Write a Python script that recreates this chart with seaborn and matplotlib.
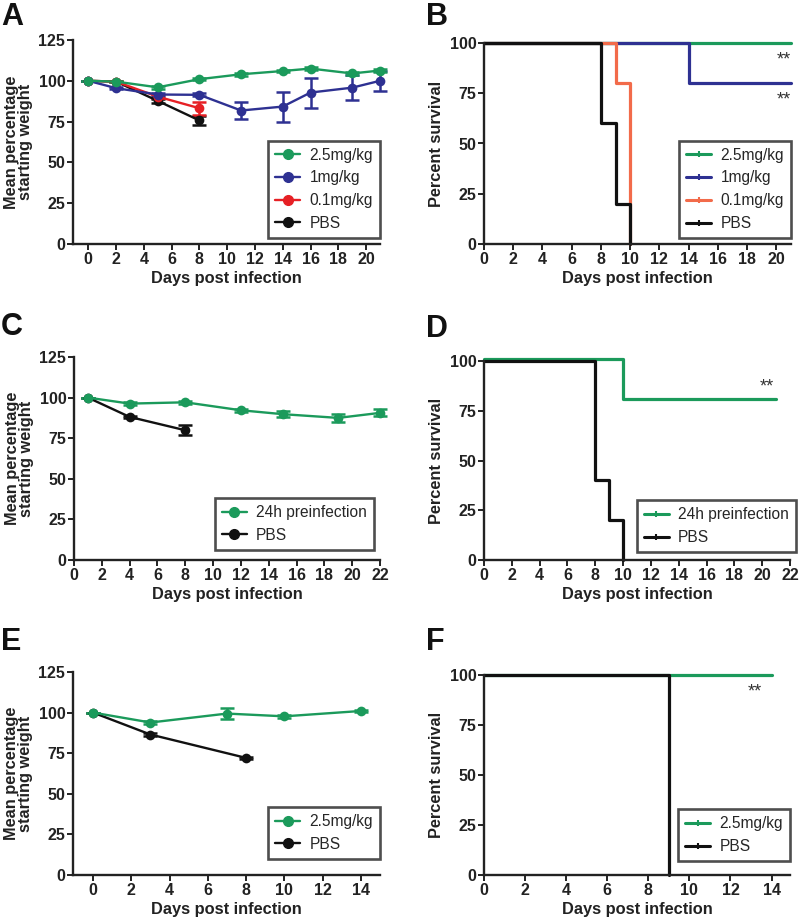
import numpy as np
import pandas as pd
import seaborn as sns
import matplotlib.pyplot as plt
from matplotlib.lines import Line2D

sns.set_style('white')
plt.rcParams['font.family'] = ['Liberation Sans', 'DejaVu Sans']

GREEN = '#1b9a5b'
BLUE = '#2e3192'
RED = '#e62025'
ORANGE = '#f26b4a'
BLACK = '#111111'

# ---- A: weight, dose response
a_groups = ['2.5mg/kg', '1mg/kg', '0.1mg/kg', 'PBS']
a_days = {
    '2.5mg/kg': [0, 2, 5, 8, 11, 14, 16, 19, 21],
    '1mg/kg': [0, 2, 5, 8, 11, 14, 16, 19, 21],
    '0.1mg/kg': [0, 2, 5, 8],
    'PBS': [0, 2, 5, 8],
}
a_mean = {
    '2.5mg/kg': [100, 99.5, 96, 101, 104, 106, 107.5, 104.5, 106.3],
    '1mg/kg': [100, 95.5, 91.6, 91.4, 81.8, 84.2, 92.8, 95.8, 100],
    '0.1mg/kg': [100, 99.5, 90.3, 83.2],
    'PBS': [100, 99.5, 87.7, 75.7],
}
a_sem = {
    '2.5mg/kg': [0, 0.5, 0.8, 0.8, 0.8, 0.8, 0.8, 1, 0.8],
    '1mg/kg': [0, 0.8, 1, 1, 5, 9.2, 9.2, 7.6, 6.3],
    '0.1mg/kg': [0, 0.5, 1, 4],
    'PBS': [0, 0.5, 1, 2.5],
}

# ---- B: survival, dose response
b_times = {
    '2.5mg/kg': [0, 21],
    '1mg/kg': [0, 14, 21],
    '0.1mg/kg': [0, 9, 10],
    'PBS': [0, 8, 9, 10],
}
b_surv = {
    '2.5mg/kg': [100, 100],
    '1mg/kg': [100, 80, 80],
    '0.1mg/kg': [100, 80, 0],
    'PBS': [100, 60, 20, 0],
}

# ---- C: weight, 24h preinfection
c_groups = ['24h preinfection', 'PBS']
c_days = {'24h preinfection': [1, 4, 8, 12, 15, 19, 22], 'PBS': [1, 4, 8]}
c_mean = {'24h preinfection': [100, 96.3, 97.1, 92.2, 89.8, 87.5, 90.6],
          'PBS': [100, 88.1, 79.9]}
c_sem = {'24h preinfection': [0, 0.8, 0.8, 0.8, 2, 2.3, 2.2],
         'PBS': [0, 0.8, 3]}

# ---- D: survival, 24h preinfection
d_times = {'24h preinfection': [0, 10, 21], 'PBS': [0, 8, 9, 10]}
d_surv = {'24h preinfection': [101, 81, 81], 'PBS': [100, 40, 20, 0]}

# ---- E: weight, 2.5mg/kg
e_groups = ['2.5mg/kg', 'PBS']
e_days = {'2.5mg/kg': [0, 3, 7, 10, 14], 'PBS': [0, 3, 8]}
e_mean = {'2.5mg/kg': [100, 93.9, 99.4, 97.7, 101], 'PBS': [100, 86.5, 72.1]}
e_sem = {'2.5mg/kg': [0, 0.8, 3.5, 0.8, 0.8], 'PBS': [0, 0.8, 0.8]}

# ---- F: survival, 2.5mg/kg
f_times = {'2.5mg/kg': [0, 14], 'PBS': [0, 9, 9]}
f_surv = {'2.5mg/kg': [100, 100], 'PBS': [100, 100, 0]}


def long_df(days, vals, extra=None):
    rows = []
    for g in days:
        for i, (d, v) in enumerate(zip(days[g], vals[g])):
            r = {'group': g, 'day': d, 'val': v}
            if extra is not None:
                r['err'] = extra[g][i]
            rows.append(r)
    return pd.DataFrame(rows)


def style_axes(ax, xlim, xticks, ylim, yticks, ylabel):
    ax.set_xlim(*xlim)
    ax.set_ylim(*ylim)
    ax.set_xticks(xticks)
    ax.set_yticks(yticks)
    for s in ['top', 'right']:
        ax.spines[s].set_visible(False)
    for s in ['left', 'bottom']:
        ax.spines[s].set_linewidth(1.7)
        ax.spines[s].set_color('#222222')
    ax.tick_params(axis='both', which='both', direction='out', length=4,
                   width=1.4, color='#222222', labelsize=11.5, pad=1.5,
                   bottom=True, left=True)
    for lab in ax.get_xticklabels() + ax.get_yticklabels():
        lab.set_fontweight('bold')
        lab.set_color('#222222')
    ax.set_xlabel('Days post infection', fontsize=11.8, fontweight='bold',
                  color='#222222', labelpad=3)
    ax.set_ylabel(ylabel, fontsize=11.8, fontweight='bold', color='#222222',
                  labelpad=4, linespacing=0.95)
    ax.grid(False)


def add_legend(ax, groups, colors, anchor, survival):
    handles = []
    for g in groups:
        if survival:
            h = Line2D([], [], color=colors[g], lw=2.2, marker='|',
                       markersize=5, markeredgewidth=1.5)
        else:
            h = Line2D([], [], color=colors[g], lw=1.7, marker='o',
                       markersize=7)
        handles.append(h)
    leg = ax.legend(handles, groups, loc='lower right', bbox_to_anchor=anchor,
                    frameon=True, fancybox=False, fontsize=11.2,
                    handlelength=1.6, handletextpad=0.6, borderpad=0.45,
                    labelspacing=0.5, borderaxespad=0)
    leg.get_frame().set_edgecolor('#222222')
    leg.get_frame().set_linewidth(1.9)


def weight_panel(ax, days, means, sems, groups, colors):
    df = long_df(days, means, sems)
    for g in groups[::-1]:
        sub = df[df.group == g]
        ax.errorbar(sub['day'], sub['val'], yerr=sub['err'], fmt='none',
                    ecolor=colors[g], elinewidth=1.8, capsize=5,
                    capthick=1.8, zorder=2, clip_on=False)
    sns.lineplot(data=df, x='day', y='val', hue='group',
                 hue_order=groups[::-1], palette=colors, marker='o',
                 markersize=7, markeredgewidth=0, linewidth=1.7,
                 ax=ax, legend=False, clip_on=False, zorder=3)


def survival_panel(ax, times, surv, groups, colors):
    df = long_df(times, surv)
    sns.lineplot(data=df, x='day', y='val', hue='group',
                 hue_order=groups, palette=colors, drawstyle='steps-post',
                 linewidth=2.3, ax=ax, legend=False, clip_on=False,
                 estimator=None, sort=False)


fig = plt.figure(figsize=(8, 9.21), dpi=100)
W, H = 800, 921


def make_ax(l, r, t, b):
    return fig.add_axes([l / W, 1 - b / H, (r - l) / W, (b - t) / H])


axA = make_ax(73, 380, 40, 244)
axB = make_ax(484, 791, 43, 244)
axC = make_ax(74, 380, 357, 560)
axD = make_ax(484, 790, 361, 560)
axE = make_ax(73, 380, 672, 875)
axF = make_ax(484, 790, 675, 875)

wlab = 'Mean percentage\nstarting weight'

# A
colA = {'2.5mg/kg': GREEN, '1mg/kg': BLUE, '0.1mg/kg': RED, 'PBS': BLACK}
weight_panel(axA, a_days, a_mean, a_sem, a_groups, colA)
style_axes(axA, (-1.1, 21), range(0, 21, 2), (0, 125), range(0, 126, 25), wlab)
add_legend(axA, a_groups, colA, (1.0, 0.03), False)

# B
colB = {'2.5mg/kg': GREEN, '1mg/kg': BLUE, '0.1mg/kg': ORANGE, 'PBS': BLACK}
survival_panel(axB, b_times, b_surv, a_groups, colB)
style_axes(axB, (0, 21), range(0, 21, 2), (0, 100), range(0, 101, 25),
           'Percent survival')
add_legend(axB, a_groups, colB, (1.0, 0.03), True)
axB.text(20.5, 96, '**', ha='center', va='top', fontsize=13, color='#333333')
axB.text(20.5, 76, '**', ha='center', va='top', fontsize=13, color='#333333')

# C
colC = {'24h preinfection': GREEN, 'PBS': BLACK}
weight_panel(axC, c_days, c_mean, c_sem, c_groups, colC)
style_axes(axC, (0, 22), range(0, 23, 2), (0, 125), range(0, 126, 25), wlab)
add_legend(axC, c_groups, colC, (0.98, 0.05), False)

# D
survival_panel(axD, d_times, d_surv, c_groups, colC)
style_axes(axD, (0, 22), range(0, 23, 2), (0, 100), range(0, 101, 25),
           'Percent survival')
add_legend(axD, c_groups, colC, (1.02, 0.04), True)
axD.text(20.3, 91, '**', ha='center', va='top', fontsize=13, color='#333333')

# E
colE = {'2.5mg/kg': GREEN, 'PBS': BLACK}
weight_panel(axE, e_days, e_mean, e_sem, e_groups, colE)
style_axes(axE, (-1.05, 15), range(0, 15, 2), (0, 125), range(0, 126, 25), wlab)
add_legend(axE, e_groups, colE, (1.0, 0.08), False)

# F
survival_panel(axF, f_times, f_surv, e_groups, colE)
style_axes(axF, (0, 14.9), range(0, 15, 2), (0, 100), range(0, 101, 25),
           'Percent survival')
add_legend(axF, e_groups, colE, (1.0, 0.07), True)
axF.text(13.2, 96, '**', ha='center', va='top', fontsize=13, color='#333333')

# panel letters
for (x, y, s) in [(1, 2, 'A'), (426, 2, 'B'), (1, 312, 'C'), (426, 314, 'D'),
                  (1, 627, 'E'), (426, 627, 'F')]:
    fig.text(x / W, 1 - y / H, s, fontsize=22, fontweight='bold', va='top',
             ha='left', color='#111111')

fig.savefig('out.png', dpi=100)
